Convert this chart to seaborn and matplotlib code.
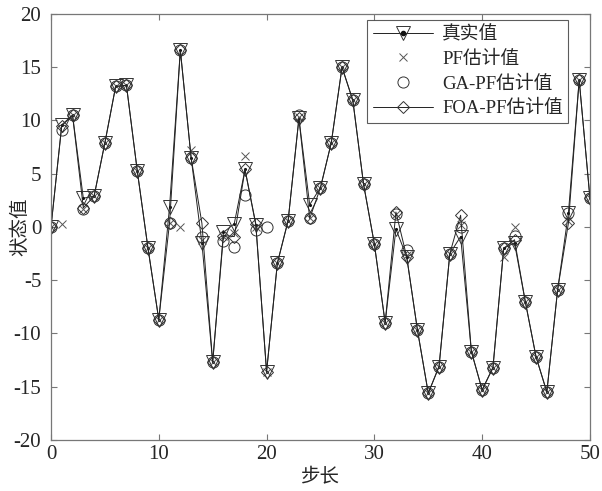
import numpy as np
import pandas as pd
import matplotlib
matplotlib.use("Agg")
import matplotlib.pyplot as plt
import seaborn as sns

steps = list(range(51))

true_vals = [0.0, 9.6, 10.5, 2.7, 2.9, 7.9, 13.2, 13.3, 5.3, -2.0,
             -8.7, 1.9, 16.6, 6.5, -1.5, -12.7, -0.5, 0.3, 5.4, 0.2,
             -13.6, -3.4, 0.6, 10.2, 2.1, 3.7, 7.9, 15.0, 11.9, 4.0,
             -1.6, -9.0, -0.2, -2.8, -9.7, -15.6, -13.1, -2.5, -0.9, -11.7,
             -15.3, -13.2, -2.0, -1.5, -7.0, -12.2, -15.5, -5.9, 1.3, 13.8, 2.7]

pf_vals = [0.0, 0.3, 10.5, 1.7, 2.9, 7.9, 13.2, 13.3, 5.3, -2.0,
           -8.7, 0.4, 0.0, 7.2, -1.2, -12.7, -0.8, -0.6, 6.7, 0.0,
           -13.6, -3.4, 0.6, 10.3, 0.8, 3.7, 7.9, 15.0, 11.9, 4.0,
           -1.6, -9.0, 1.2, -2.6, -9.7, -15.6, -13.1, -2.5, 0.2, -11.7,
           -15.3, -13.2, -2.8, 0.0, -7.0, -12.2, -15.5, -5.9, 0.6, 13.8, 2.7]

ga_vals = [0.0, 9.1, 10.5, 1.7, 2.9, 7.9, 13.2, 13.3, 5.3, -2.0,
           -8.7, 0.35, 16.6, 6.5, -0.9, -12.7, -1.3, -1.9, 3.0, -0.3,
           0.0, -3.4, 0.6, 10.5, 0.8, 3.7, 7.9, 15.0, 11.9, 4.0,
           -1.6, -9.0, 1.2, -2.2, -9.7, -15.6, -13.1, -2.5, 0.0, -11.7,
           -15.3, -13.2, -2.0, -0.8, -7.0, -12.2, -15.5, -5.9, 1.3, 13.8, 2.7]

foa_vals = [0.0, 9.5, 10.5, 1.8, 2.9, 7.9, 13.2, 13.3, 5.3, -2.0,
            -8.7, 0.4, 16.6, 6.5, 0.35, -12.7, -0.8, -0.9, 5.4, 0.3,
            -13.6, -3.4, 0.6, 10.2, 0.8, 3.7, 7.9, 15.0, 11.9, 4.0,
            -1.6, -9.0, 1.4, -2.8, -9.7, -15.6, -13.1, -2.5, 1.1, -11.7,
            -15.3, -13.2, -2.0, -1.2, -7.0, -12.2, -15.5, -5.9, 0.35, 13.8, 2.7]

labels = ["真实值", "PF估计值", "GA-PF估计值", "FOA-PF估计值"]

df = pd.DataFrame({"step": steps, "true": true_vals, "pf": pf_vals,
                   "ga": ga_vals, "foa": foa_vals})

sns.set_style("ticks")
plt.rcParams['font.family'] = ['Liberation Serif', 'Noto Sans CJK SC']
plt.rcParams['axes.unicode_minus'] = False

fig = plt.figure(figsize=(6.02, 4.91), dpi=100)
ax = fig.add_axes([0.0847, 0.1039, 0.8953, 0.8676])

mk = dict(markerfacecolor='none', markeredgecolor='#333333', markeredgewidth=0.7)

sns.lineplot(data=df, x="step", y="true", ax=ax, color='#222222', linewidth=0.7,
             marker='v', markersize=10, **mk)
dot = ax.plot(df["step"], df["true"], linestyle='none', marker='.', markersize=2.5,
              color='#111111')[0]
sns.lineplot(data=df, x="step", y="pf", ax=ax, linestyle='none',
             marker='x', markersize=5.5, color='#555555',
             markeredgecolor='#555555', markeredgewidth=0.7)
sns.lineplot(data=df, x="step", y="ga", ax=ax, linestyle='none',
             marker='o', markersize=8, **mk)
sns.lineplot(data=df, x="step", y="foa", ax=ax, color='#222222', linewidth=0.7,
             marker='D', markersize=6.5, **mk)

lines = ax.get_lines()
leg_true = plt.Line2D([], [], color='#222222', linewidth=0.7, marker='v',
                      markersize=10, **mk)
leg_dot = plt.Line2D([], [], linestyle='none', marker='.', markersize=6, color='#111111')
handles = [(leg_true, leg_dot), lines[2], lines[3], lines[4]]
leg = ax.legend(handles, labels, loc='upper right', bbox_to_anchor=(0.96, 0.986),
                fontsize=13.5, frameon=True, fancybox=False, edgecolor='#333333',
                handlelength=3.2, handletextpad=0.5, labelspacing=0.4,
                borderpad=0.3, borderaxespad=0)
leg.get_frame().set_linewidth(0.8)

ax.set_xlim(0, 50)
ax.set_ylim(-20, 20)
ax.set_xticks(range(0, 51, 10))
ax.set_yticks(range(-20, 21, 5))
ax.tick_params(direction='in', top=True, right=True, labelsize=15, length=4,
               color='#777777', width=0.8)
ax.tick_params(axis='y', pad=7)
for s in ax.spines.values():
    s.set_color('#777777')
    s.set_linewidth(0.9)

ax.set_xlabel("步长", fontsize=14, labelpad=3)
ax.set_ylabel("状态值", fontsize=14)
ax.yaxis.set_label_coords(-0.04, 0.5)

fig.savefig("out.png", dpi=100)
